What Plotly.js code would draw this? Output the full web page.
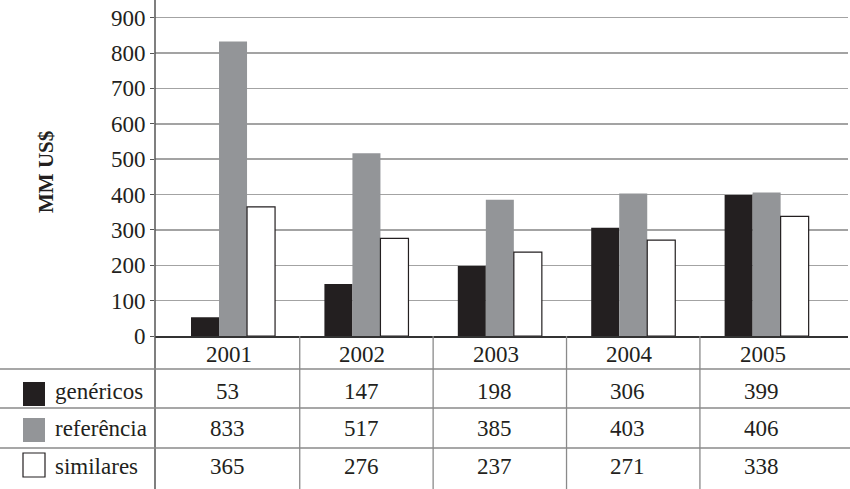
<!DOCTYPE html>
<html>
<head>
<meta charset="utf-8">
<script src="https://cdn.plot.ly/plotly-3.0.1.min.js"></script>
<style>
	body { margin: 0; background: #fff; }
	#chart { width: 850px; height: 489px; }
</style>
</head>
<body>
<div id="chart"></div>
<script>
// values, as printed in the table under the chart
const years = ['2001', '2002', '2003', '2004', '2005']
const genericos = [53, 147, 198, 306, 399]
const referencia = [833, 517, 385, 403, 406]
const similares = [365, 276, 237, 271, 338]
const seriesNames = ['genéricos', 'referência', 'similares']
const yTicks = [0, 100, 200, 300, 400, 500, 600, 700, 800, 900]

const W = 850, H = 489
const L = 155, R = 2, T = 0, B = 153
const plotW = W - L - R, plotH = H - T - B
// pixel -> paper helpers for the table drawn under the plot
const px = x => (x - L) / plotW
const py = y => (H - B - y) / plotH

const ink = '#231f20'
const font = '"Liberation Serif", serif'
const colours = ['#231f20', '#939598', '#ffffff']
const values = [genericos, referencia, similares]

const traces = values.map((v, k) => ({
	type: 'bar',
	x: years,
	y: v,
	name: seriesNames[k],
	marker: {
		color: colours[k],
		line: { color: ink, width: k == 2 ? 1.2 : 0 },
	},
}))

// table rows: header line, then one line per series
const rowLines = [369, 408, 448]
const rowCentres = [391, 428, 466]
const swatchTops = [382, 418, 453]

let shapes = []
let annotations = []

// left axis line runs down through the table
shapes.push({ type: 'line', xref: 'paper', yref: 'paper', x0: 0, x1: 0, y0: py(H), y1: 1, line: { color: '#555', width: 1.5 } })
// horizontal table lines
rowLines.forEach(y => shapes.push({
	type: 'line', xref: 'paper', yref: 'paper', x0: px(0), x1: px(W), y0: py(y), y1: py(y),
	line: { color: '#8a8a8a', width: 1.3 },
}))
// column separators between years
years.slice(1).forEach((_, i) => shapes.push({
	type: 'line', xref: 'x', yref: 'paper', x0: i + 0.5, x1: i + 0.5, y0: py(H), y1: 0,
	line: { color: '#8a8a8a', width: 1.3 },
}))

const cell = (i, y, text) => ({
	x: i, xref: 'x', y: py(y), yref: 'paper', yanchor: 'middle', text: text, showarrow: false,
	font: { family: font, size: 23, color: ink },
})

// year header
years.forEach((yr, i) => annotations.push(cell(i - 0.03, 354, yr)))

// legend swatches, labels and values
seriesNames.forEach((name, k) => {
	shapes.push({
		type: 'rect', xref: 'paper', yref: 'paper',
		x0: px(23), x1: px(45), y0: py(swatchTops[k] + 24), y1: py(swatchTops[k]),
		fillcolor: colours[k], line: { color: ink, width: k == 2 ? 1.2 : 0 },
	})
	annotations.push({
		x: px(53), xref: 'paper', xanchor: 'left', y: py(rowCentres[k]), yref: 'paper', yanchor: 'middle',
		text: name, showarrow: false, font: { family: font, size: 23, color: ink },
	})
	values[k].forEach((v, i) => annotations.push(cell(i - 0.04, rowCentres[k], String(v))))
})

// y axis title
annotations.push({
	x: px(32), xref: 'paper', y: py(172), yref: 'paper', yanchor: 'middle', text: '<b>MM US$</b>', textangle: -90,
	showarrow: false, font: { family: font, size: 21, color: ink },
})

Plotly.newPlot('chart', traces, {
	width: W,
	height: H,
	margin: { l: L, r: R, t: T, b: B, pad: 0 },
	paper_bgcolor: '#fff',
	plot_bgcolor: '#fff',
	showlegend: false,
	barmode: 'group',
	bargap: 0.37,
	bargroupgap: 0,
	font: { family: font, size: 23, color: ink },
	xaxis: {
		type: 'category',
		range: [-0.585, 4.61],
		showticklabels: false,
		ticks: '',
		showgrid: false,
		showline: true,
		linecolor: '#333',
		linewidth: 1.5,
		zeroline: false,
		fixedrange: true,
	},
	yaxis: {
		range: [0, 950],
		tickvals: yTicks,
		ticks: 'outside',
		ticklen: 4,
		tickcolor: '#555',
		tickfont: { family: font, size: 23, color: ink },
		showgrid: true,
		gridcolor: '#a3a3a3',
		gridwidth: 1.5,
		showline: false,
		zeroline: false,
		fixedrange: true,
	},
	shapes: shapes,
	annotations: annotations,
}, { displayModeBar: false, staticPlot: true })
</script>
</body>
</html>
